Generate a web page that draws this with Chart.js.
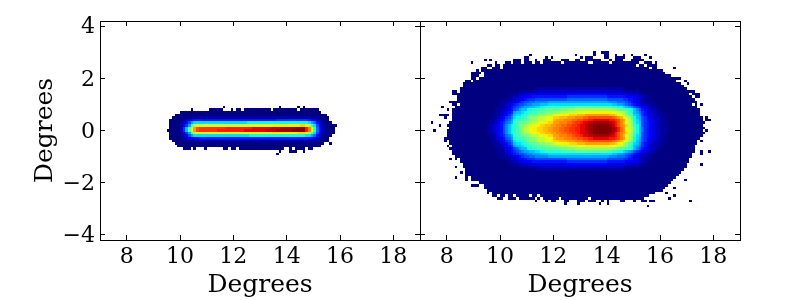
<!DOCTYPE html>
<html>
<head>
<meta charset="utf-8">
<style>
  html, body { margin: 0; padding: 0; background: #fff; }
  #wrap { position: relative; width: 800px; height: 300px; overflow: hidden; }
  canvas { position: absolute; top: 0; }
</style>
<script src="https://cdn.jsdelivr.net/npm/chart.js@4"></script>
</head>
<body>
<div id="wrap">
  <canvas id="left" width="440" height="300" style="left:0"></canvas>
  <canvas id="right" width="400" height="300" style="left:400px"></canvas>
</div>
<script>
// tick labels of both panels
const xTicks = [8, 10, 12, 14, 16, 18];
const yTicks = [-4, -2, 0, 2, 4];
const xLabel = "Degrees";
const yLabel = "Degrees";

// histogram bin width (degrees) and the top row of each panel
const BIN = 0.1;
const X_START = 7;
const leftTop = 0.9;
const rightTop = 3.0;

// Histogram cells, one string per row, top row first.
// One char per bin, base 36 level (0 = lowest count, z = highest), "." = empty.
// Spaces only group the columns in tens.
const leftRows = [
  ".......... .......... .......... .......... ......0... .......... .......0.. ....0.0...",
  ".......... .......... .......... ....0..... .00000...0 .00.000000 0000.00000 0000.00000 00........",
  ".......... .......... .......... 0000000000 0000000000 0000000000 0000000000 0000000000 000.......",
  ".......... .......... ........00 0000000000 0000000000 0000000000 0000000000 0000000000 00000.....",
  ".......... .......... .......000 0000111111 1111111111 1111111111 1111111111 1111111111 110000....",
  ".......... .......... ......0000 0123455555 5555555555 5555555555 5555556666 6666666654 321000....",
  ".......... .......... ......0000 1247accccc cccccccccc cccccddddd dddddddddd ddddddddca 8531000...",
  ".......... .......... ......0000 136agkllll llllllllll llllllmmmm mmmmmnnnnn nnnnnoonjf c73110000.",
  ".......... .......... ......0000 26bgmqtuuu uuuuuuuvvv vvvvvvvwww wwwwxxxxyy yyyzzzzvrm e8421000..",
  ".......... .......... .....00000 26bgmqtuuu uuuuvvvvvv vvvvwwwwww wwxxxxyyyy yyzzzzzvrm e8421000..",
  ".......... .......... ......0000 136agkllll llllllllll llllmmmmmm mmmmnnnnnn nnnnooonjf c7311000..",
  ".......... .......... ......0000 1247accccc cccccccccc ccccccdddd dddddddddd dddddddcca 8531000...",
  ".......... .......... ......0000 0123444555 5555555555 5555555555 5555555555 5555555544 321000....",
  ".......... .......... .......000 0000111111 1111111111 1111111111 1111111111 1111111111 110000....",
  ".......... .......... ........00 0000000000 0000000000 0000000000 0000000000 0000000000 0000..0...",
  ".......... .......... .........0 0000000000 0000000000 0000000000 0000000000 0000000000 000.......",
  ".......... .......... .......... .000.0...0 ......00.0 0.00000000 000000000. .0.0000.00",
  ".......... .......... .......... .......... .......... .......... .......0.. .000..0...",
  ".......... .......... .......... .......... .......... .......... ......0..."
];

const rightRows = [
  ".......... .......... .......... .......... .......... .......... .....0..00 0.........",
  ".......... .......... .......... .......... .0........ ........0. .....0...0 0..0..0..0 ....0.....",
  ".......... .......... .......... .........0 0......0.0 .......... 0.000....0 0..0000... 000...0...",
  ".......... .......... ....0.0... .....000.0 0..0..000. ...000..00 ..000000.. .0.000...0 0000......",
  ".......... .........0 ........0. ..00.000.0 00.00.0000 000.000000 000..00000 0.00000000 00..000.0.",
  ".......... .......... .....00.00 .000000000 0000000000 0000000000 0000000000 0000000000 0.00.0000.",
  ".......... .......... ...00..000 .000000000 0000000000 0000000000 0000000000 0000000000 000000.00. .....0....",
  ".......... .......... .0.0000000 0000000000 0000000000 0000000000 0000000000 0000000000 0000000000 0.........",
  ".......... .........0 000.000000 0000000000 0000000000 0000000000 0000000000 0000000000 0000000000 00........",
  ".......... .........0 00..000000 0000000000 0000000000 0000000000 0000000000 0000000000 0000000000 0000......",
  ".......... .........0 0.00000000 0000000000 0000000000 0000000000 0000000000 0000000000 0000000000 00000000..",
  ".......... .......00. 0000000000 0000000000 0000000000 0000000000 0000000000 0000000000 0000000000 000000...0",
  ".......... ......0000 0000000000 0000000000 0000000000 0000000000 0000000000 0000000000 0000000000 00000000.. 0.........",
  ".......... ......0000 0000000000 0000000000 0000000000 0000000000 0000000000 0000000000 0000000000 000000000.",
  ".......... .....00000 0000000000 0000000000 0001111111 1111111111 1111111111 1111111000 0000000000 0000000000",
  ".......... ..00.00000 0000000000 0000000111 1111222222 2222222222 2222222222 2222221111 1100000000 0000000000 000.......",
  ".......... ..00000000 0000000000 0000111222 2333333333 3333344444 4444444444 3333333322 2211000000 0000000000 0.000.....",
  ".......... ....000000 0000000000 0001122334 4455555555 5555566666 6666666666 5555555444 3322110000 0000000000 00.00.....",
  ".......... ....000000 0000000000 0011223445 6667777777 7777788888 8888888888 7777776655 4322110000 0000000000 000.......",
  ".......... .000000000 0000000000 1112234567 78899999aa aaaaaaaaaa aaaaaaaaaa a999888765 4322111000 0000000000 0000......",
  ".......... ..00.00000 0000000000 1123456778 99aaabbbcc cccccccccc cccccccccc ccbbaa9876 5432211100 0000000000 00.0.0....",
  "........0. ...0000000 0000000001 112356789a abbccddeee eeefffffgg gggggggggg ffeeddcba9 7654322110 0000000000 0000......",
  ".......... 0.00000000 0000000011 1234578abb ddeefffggg gghhhiiijj jjjjjjjjjj jjiihggfed b975432211 0000000000 00000.....",
  ".......... ..00000000 0000000011 23456abbcd eeffgghhii ijjkkklllm mmnnnnnnnn nnmmlkjhfe ba86532211 1000000000 00000.....",
  ".......000 0.00000000 0000000111 23468bccde fgghhiijjk lmmnnnooop ppqqqqqqqq qpponmkigf cb96543221 1000000000 00000.....",
  ".........0 ..00000000 0000000112 34679cddef hiijkllmmn oopppqqqrr rssttttttt ttsrqpnljg dba7643222 1100000000 000000.0..",
  ".......... ..00000000 0000001123 4578adeefg ghijkklmmn pqqqrrrsst tuuvvwwwww wvvutrqnki dca7644322 1100000000 000000.00.",
  "....0..... .000000000 0000001123 5689befggh ijkllmnnoo qqrrrsstuu vwwxxyyyyy yxwvtrpmki ecb7654322 1100000000 0000000...",
  ".......0.. 0000000000 0000011234 579bdefhij klmmnooppq qrrssttuuv wwxyyzzzzz zyxvtrqoki fdb7654322 1110000000 000000....",
  ".......... .000000000 0000011234 579bdefhik lmnnooppqq rrssttuuvv wwxyyzzzzz zzyxvsqnlj gdb8654322 1110000000 0000000...",
  ".....0.... 0000000000 0000011234 579bdefhik lmnnooppqq rrssttuuvv wwxyyzzzzz zzyxvsqnlj gdb8654322 1110000000 000000.0..",
  ".......... 0000000000 0000011234 579bdefhij klmmnooppq qrrssttuuv wwxyyzzzzz zyxvtrqoki fdb7654322 1110000000 0000000...",
  ".......... 0000000000 0000001123 5689befggh ijkllmnnoo qqrrrsstuu vwwxxyyyyy yxwvtrpmki ecb7654322 1100000000 000000....",
  ".........0 0000000000 0000001123 4578adeefg ghijkklmmn pqqqrrrsst tuuvvwwwww wvvutrqnki dca7644322 1100000000 00000.....",
  ".........0 .000000000 0000000112 34679cddef hiijkllmmn oopppqqqrr rssttttttt ttsrqpnljg dba7643222 1100000000 0000.0....",
  ".......... .000000000 0000000111 23468bccde fgghhiijjk lmmnnnooop ppqqqqqqqq qpponmkigf cb96543221 1000000000 0000......",
  ".......... 0.00000000 0000000011 23456abbcd eeffgghhii ijjkkklllm mmnnnnnnnn nnmmlkjhfe ba86532211 1000000000 000.......",
  ".......... .000000000 0000000011 1234578abb ddeefffggg gghhhiiijj jjjjjjjjjj jjiihggfed b975432211 0000000000 000.......",
  ".......... ..00000000 0000000001 112356789a abbccddeee eeefffffgg gggggggggg ffeeddcba9 7654322110 0000000000 000..0..0.",
  ".......... ..00000000 0000000000 1123456778 99aaabbbcc cccccccccc cccccccccc ccbbaa9876 5432211100 0000000000 00...0....",
  ".......... ...0000000 0000000000 1112234567 78899999aa aaaaaaaaaa aaaaaaaaaa a999888765 4322111000 0000000000 00........",
  ".......... .0.0.00000 0000000000 0011223445 6667777777 7777788888 8888888888 7777776655 4322110000 0000000000 0.........",
  ".......... .....00000 0000000000 0001122334 4455555555 5555566666 6666666666 5555555444 3322110000 0000000000 0.........",
  ".......... ......0000 0000000000 0000111222 2333333333 3333344444 4444444444 3333333322 2211000000 0000000000 .....0....",
  ".......... ...0..0000 0000000000 0000000111 1111222222 2222222222 2222222222 2222221111 1100000000 0000000000",
  ".......... .......000 0000000000 0000000000 0001111111 1111111111 1111111111 1111111000 0000000000 000000000.",
  ".......... .....0.000 0000000000 0000000000 0000000000 0000000000 0000000000 0000000000 0000000000 00000000..",
  ".......... .......000 0000000000 0000000000 0000000000 0000000000 0000000000 0000000000 0000000000 0000000...",
  ".......... ...0...0.0 0000000000 0000000000 0000000000 0000000000 0000000000 0000000000 0000000000 000000....",
  ".......... .......0.0 0000000000 0000000000 0000000000 0000000000 0000000000 0000000000 0000000000 00000....0",
  ".......... .......... ..00000000 0000000000 0000000000 0000000000 0000000000 0000000000 0000000000 0000......",
  ".......... .........0 00..000000 0000000000 0000000000 0000000000 0000000000 0000000000 0000000000 000.......",
  ".......... .......... ....000000 0000000000 0000000000 0000000000 0000000000 0000000000 0000000000 00...0....",
  ".......... .......... .....00000 0000000000 0000000000 0000000000 0000000000 0000000000 0000000000 0.........",
  ".......... .......... .....0.000 0000000000 0000000000 0000000000 0000000000 0000000000 00000000.. ..0.......",
  ".......... .......... .......00. 00.00.0000 0.00.00000 0000000000 0000000000 0000000000 000000.... .....0....",
  ".......... .......... .........0 0..000.000 000.0.0000 00.0000000 000.000000 0000000000 0000...... ...0......",
  ".......... .......... .......... .......... ...0...0.0 0...00...0 00.000..0. 0....00... 0..00.00.. .......... .0........",
  ".......... .......... .......... .......... .......... ....0....0 .......0.. 0.........",
  ".......... .......... .......... .......... .......... .......... .......... .......... .....0...."
];

// turn the row strings into points for the chart
function toCells(rows, top) {
  const cells = [];
  rows.forEach((row, i) => {
    const chars = row.replace(/ /g, "");
    for (let c = 0; c < chars.length; c++) {
      if (chars[c] === ".") continue;
      cells.push({ x: X_START + BIN * c + BIN / 2, y: top - BIN * i, v: parseInt(chars[c], 36) / 35 });
    }
  });
  return cells;
}

// matplotlib jet
function jet(v) {
  const seg = (pts) => {
    for (let i = 1; i < pts.length; i++) {
      if (v <= pts[i][0]) {
        const t = (v - pts[i - 1][0]) / (pts[i][0] - pts[i - 1][0]);
        return pts[i - 1][1] + t * (pts[i][1] - pts[i - 1][1]);
      }
    }
    return pts[pts.length - 1][1];
  };
  const r = seg([[0, 0], [0.35, 0], [0.66, 1], [0.89, 1], [1, 0.5]]);
  const g = seg([[0, 0], [0.125, 0], [0.375, 1], [0.64, 1], [0.91, 0], [1, 0]]);
  const b = seg([[0, 0.5], [0.11, 1], [0.34, 1], [0.65, 0], [1, 0]]);
  return `rgb(${Math.round(r * 255)},${Math.round(g * 255)},${Math.round(b * 255)})`;
}

// draws the bins as crisp image cells, positions come from the chart scales
const heatCells = {
  id: "heatCells",
  beforeDatasetsDraw(chart) {
    const { ctx, scales } = chart;
    ctx.save();
    chart.data.datasets[0].data.forEach(p => {
      const x0 = Math.round(scales.x.getPixelForValue(p.x - BIN / 2));
      const x1 = Math.round(scales.x.getPixelForValue(p.x + BIN / 2));
      const y0 = Math.round(scales.y.getPixelForValue(p.y + BIN / 2));
      const y1 = Math.round(scales.y.getPixelForValue(p.y - BIN / 2));
      ctx.fillStyle = jet(p.v);
      ctx.fillRect(x0, y0, x1 - x0, y1 - y0);
    });
    ctx.restore();
  }
};

const FONT = "'DejaVu Serif'";

function axisBase(values, size, tickPad, showLabels) {
  return {
    type: "linear",
    afterBuildTicks: s => { s.ticks = values.map(v => ({ value: v })); },
    afterFit: s => {
      if (s.isHorizontal()) s.height = size; else s.width = size;
      // labels may hang over the ends, keep the plot box where it is
      s.paddingTop = s.paddingBottom = s.paddingLeft = s.paddingRight = 0;
    },
    border: { display: true, color: "#000", width: 1 },
    grid: { drawOnChartArea: false, drawTicks: true, tickLength: -5, color: "#000", lineWidth: 1 },
    ticks: {
      display: showLabels,
      padding: tickPad,
      color: "#000",
      maxRotation: 0,
      autoSkip: false,
      font: { family: FONT, size: 22 },
      callback: v => String(v).replace("-", "\u2212")
    }
  };
}

function makeChart(id, cells, leftW, rightW, showY) {
  const x = axisBase(xTicks, 60, 9, true);
  x.min = 7; x.max = 19;
  x.title = { display: true, text: xLabel, color: "#000", padding: 0, font: { family: FONT, size: 25 } };

  const y = axisBase(yTicks, leftW, 10, showY);
  y.min = -4.2; y.max = 4.2;
  y.ticks.labelOffset = 1.5;
  if (showY) y.title = { display: true, text: yLabel, color: "#000", padding: { top: 30, bottom: 0 }, font: { family: FONT, size: 25 } };

  const x2 = axisBase(xTicks, 21, 0, false);
  x2.min = 7; x2.max = 19; x2.position = "top";

  const y2 = axisBase(yTicks, rightW, 0, false);
  y2.min = -4.2; y2.max = 4.2; y2.position = "right";

  return new Chart(document.getElementById(id), {
    type: "scatter",
    data: { datasets: [{ data: cells, pointRadius: 0, pointHoverRadius: 0 }] },
    plugins: [heatCells],
    options: {
      responsive: false,
      animation: false,
      events: [],
      layout: { padding: 0 },
      plugins: { legend: { display: false }, tooltip: { enabled: false } },
      scales: { x, y, x2, y2 }
    }
  });
}

makeChart("left", toCells(leftRows, leftTop), 100, 20, true);
makeChart("right", toCells(rightRows, rightTop), 20, 60, false);
</script>
</body>
</html>
